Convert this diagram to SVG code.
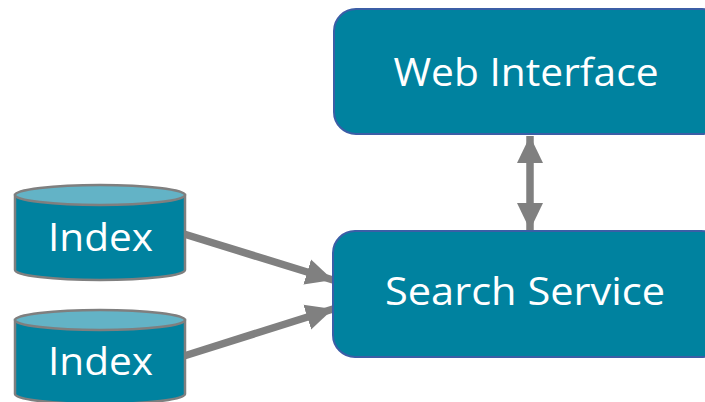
<svg xmlns="http://www.w3.org/2000/svg" width="705" height="402" viewBox="0 0 705 402">
  <defs>
    <style>
      .box { fill: #00829f; stroke: #3b5ea6; stroke-width: 2; }
      .cyl-body { fill: #00829f; stroke: #7f7f7f; stroke-width: 2.5; }
      .cyl-top { fill: #63b3c6; stroke: #7f7f7f; stroke-width: 2.5; }
      .label { fill: #ffffff; font-family: "Open Sans", "Noto Sans", sans-serif; font-size: 39px; text-anchor: middle; }
      .link { stroke: #808080; stroke-width: 7.5; fill: none; }
    </style>
    <marker id="head" markerUnits="userSpaceOnUse" markerWidth="28" markerHeight="28" viewBox="0 0 28 28" refX="27" refY="14" orient="auto-start-reverse">
      <path d="M0,1 L27,14 L0,27 Z" fill="#808080"/>
    </marker>
  </defs>

  <!-- connectors -->
  <g id="connectors">
    <line class="link" x1="530" y1="136" x2="530" y2="230" marker-start="url(#head)" marker-end="url(#head)"/>
    <line class="link" x1="184" y1="234" x2="333" y2="280" marker-end="url(#head)"/>
    <line class="link" x1="184" y1="356" x2="333" y2="309" marker-end="url(#head)"/>
  </g>

  <g id="web-interface">
    <rect class="box" x="334" y="9" width="390" height="125" rx="22"/>
    <text class="label" x="526" y="86" textLength="265" lengthAdjust="spacingAndGlyphs">Web Interface</text>
  </g>

  <g id="search-service">
    <rect class="box" x="333" y="231" width="390" height="126" rx="22"/>
    <text class="label" x="525" y="305" textLength="280" lengthAdjust="spacingAndGlyphs">Search Service</text>
  </g>

  <g id="index-1">
    <path class="cyl-body" d="M15,195 L15,270 A85,10 0 0 0 185,270 L185,195 Z"/>
    <ellipse class="cyl-top" cx="100" cy="195" rx="85" ry="10"/>
    <text class="label" x="100.5" y="251" textLength="105" lengthAdjust="spacingAndGlyphs">Index</text>
  </g>

  <g id="index-2">
    <path class="cyl-body" d="M15,320 L15,394 A85,10 0 0 0 185,394 L185,320 Z"/>
    <ellipse class="cyl-top" cx="100" cy="320" rx="85" ry="10"/>
    <text class="label" x="100.5" y="375" textLength="105" lengthAdjust="spacingAndGlyphs">Index</text>
  </g>
</svg>
